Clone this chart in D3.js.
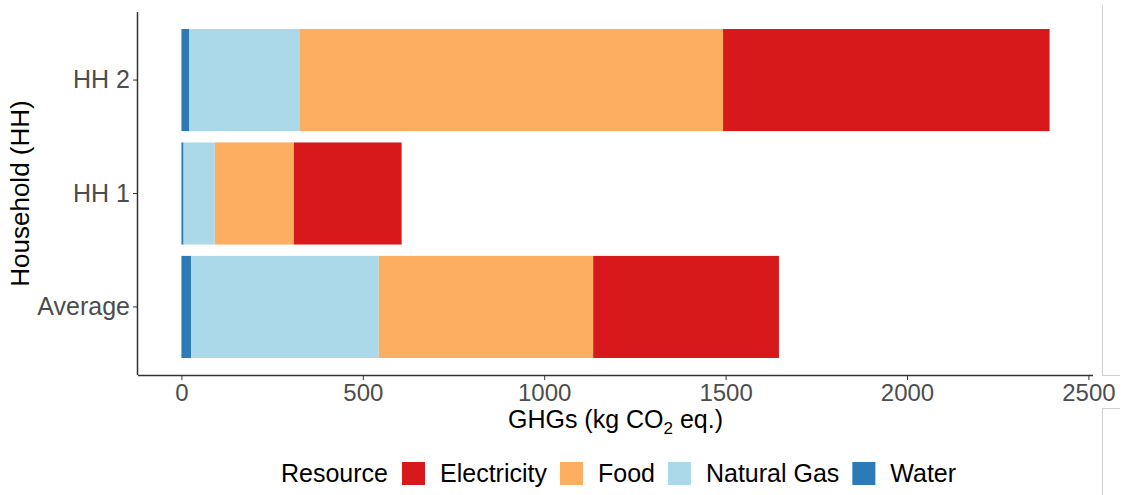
<!DOCTYPE html>
<html><head><meta charset="utf-8">
<script src="https://cdn.jsdelivr.net/npm/d3@7"></script>
<style>body{margin:0;background:#fff}svg{display:block;font-family:"Liberation Sans",Arial,sans-serif}</style>
</head><body>
<svg id="c" width="1123" height="495"></svg>
<script>
const households = ["HH 2", "HH 1", "Average"];
const resources = ["Water", "Natural Gas", "Food", "Electricity"];
const legendOrder = ["Electricity", "Food", "Natural Gas", "Water"];
const water = [21, 6, 27];
const naturalGas = [304, 86, 517];
const food = [1168, 218, 591];
const electricity = [900, 297, 512];
const xTicks = [0, 500, 1000, 1500, 2000, 2500];
const colors = {"Electricity":"#d7191c","Food":"#fdae61","Natural Gas":"#abd9e9","Water":"#2c7bb6"};

const series = {"Water":water,"Natural Gas":naturalGas,"Food":food,"Electricity":electricity};
const rows = households.map((h,i)=>{const r={hh:h}; resources.forEach(k=>r[k]=series[k][i]); return r;});
const stacked = d3.stack().keys(resources)(rows);

const svg = d3.select("#c");
const L=138, R=1093, T=12, B=375;
const maxV = d3.max(rows, r=>d3.sum(resources, k=>r[k]));
const x = d3.scaleLinear().domain([-0.05*maxV, maxV*1.05]).range([L,R]);
const y = d3.scaleBand().domain(households).range([T,B]).paddingInner(0.1).paddingOuter(0.15);

// bars
svg.append("g").selectAll("g").data(stacked).join("g")
  .attr("fill", d=>colors[d.key])
  .selectAll("rect").data(d=>d).join("rect")
  .attr("x", d=>x(d[0])).attr("width", d=>x(d[1])-x(d[0]))
  .attr("y", d=>y(d.data.hh)).attr("height", y.bandwidth());

const FF = "Liberation Sans, Arial, sans-serif";
// axes
const gx = svg.append("g").attr("transform",`translate(0,${B})`)
  .call(d3.axisBottom(x).tickValues(xTicks).tickSize(5).tickPadding(4).tickFormat(d3.format("d")));
gx.select(".domain").attr("d",`M${L},0.5H${R}`).attr("stroke","#333").attr("stroke-width",1.5);
gx.selectAll(".tick line").attr("stroke","#333");
gx.selectAll(".tick text").attr("fill","#4d4d4d").style("font-size","24px").style("font-family",FF);

const gy = svg.append("g").attr("transform",`translate(${L},0)`)
  .call(d3.axisLeft(y).tickSize(5).tickPadding(3));
gy.select(".domain").attr("d",`M-0.5,${T}V${B}`).attr("stroke","#333").attr("stroke-width",1.5);
gy.selectAll(".tick line").attr("stroke","#333");
gy.selectAll(".tick text").attr("fill","#4d4d4d").style("font-size","25px").style("font-family",FF);

// axis titles
const xt = svg.append("text").attr("x",(L+R)/2).attr("y",428).attr("text-anchor","middle")
  .style("font-size","25px").attr("fill","#000");
xt.append("tspan").text("GHGs (kg CO");
xt.append("tspan").text("2").style("font-size","17px").attr("dy",6);
xt.append("tspan").text(" eq.)").attr("dy",-6);

svg.append("text").attr("transform",`translate(29,${(T+B)/2}) rotate(-90)`).attr("text-anchor","middle")
  .style("font-size","26px").attr("fill","#000").text("Household (HH)");

// legend
const lg = svg.append("g");
let cx = 281; const ly = 482;
const t0 = lg.append("text").attr("x",cx).attr("y",ly).style("font-size","25px").text("Resource");
cx += t0.node().getComputedTextLength() + 14;
legendOrder.forEach(k=>{
  lg.append("rect").attr("x",cx).attr("y",462).attr("width",23).attr("height",23).attr("fill",colors[k]);
  cx += 23 + 15;
  const t = lg.append("text").attr("x",cx).attr("y",ly).style("font-size","25px").text(k);
  cx += t.node().getComputedTextLength() + 13;
});

// stray frame lines at right edge
const fr = svg.append("g").attr("stroke","#cfcfcf").attr("fill","none").attr("stroke-width",1);
fr.append("path").attr("d","M1102.5,5V375.5H1120");
fr.append("path").attr("d","M1120,408.5H1102.5V495");
</script>
</body></html>
